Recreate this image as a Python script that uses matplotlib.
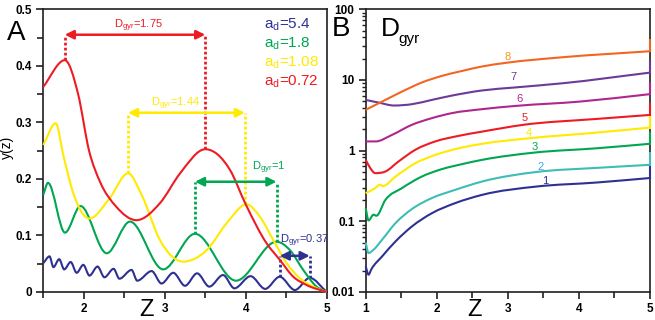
"""
Panel A: oscillating y(z) curves for four a_d values, panel B: D_gyr vs Z.
"""

import numpy as np
import matplotlib
matplotlib.use('Agg')
from matplotlib import pyplot as plt
from matplotlib.path import Path
from matplotlib.patches import PathPatch
from matplotlib.ticker import MultipleLocator, LogLocator, NullFormatter

plt.rcParams['font.family'] = ['Liberation Sans', 'DejaVu Sans']

# ---- panel A data ----
blue_x = [1.5, 1.577, 1.625, 1.696, 1.758, 1.838, 1.912, 1.994, 2.07, 2.17, 2.255,
          2.368, 2.44, 2.59, 2.66, 2.838, 2.96, 3.105, 3.25, 3.40, 3.55, 3.72, 3.86,
          4.06, 4.24, 4.42, 4.607, 4.79, 5.0]
blue_y = [0.051, 0.063, 0.044, 0.058, 0.040, 0.053, 0.034, 0.048, 0.029, 0.045, 0.026,
          0.041, 0.0235, 0.039, 0.020, 0.037, 0.015, 0.034, 0.011, 0.033, 0.0095, 0.030,
          0.0065, 0.028, 0.0055, 0.027, 0.0035, 0.025, 0.0]
green_x = [1.5, 1.558, 1.768, 1.96, 2.283, 2.57, 2.98, 3.373, 3.88, 4.38, 4.546, 4.71, 4.875, 5.0]
green_y = [0.172, 0.193, 0.105, 0.152, 0.0685, 0.1245, 0.040, 0.103, 0.020, 0.089, 0.074,
           0.039, 0.0094, 0.0]
yellow_x = [1.5, 1.653, 1.75, 1.87, 2.07, 2.32, 2.546, 2.72, 2.94, 3.228, 3.517,
            3.764, 4.01, 4.175, 4.34, 4.505, 4.67, 4.833, 5.0]
yellow_y = [0.26, 0.2985, 0.24, 0.175, 0.13, 0.166, 0.21, 0.17, 0.092, 0.0537, 0.074,
            0.1215, 0.155, 0.133, 0.092, 0.051, 0.024, 0.0094, 0.0]
red_x = [1.5, 1.765, 1.93, 2.065, 2.2, 2.4, 2.65, 2.94, 3.19, 3.5, 3.805,
         4.0, 4.258, 4.42, 4.587, 4.75, 5.0]
red_y = [0.363, 0.41, 0.35, 0.25, 0.195, 0.151, 0.127, 0.157, 0.21, 0.2525,
         0.216, 0.155, 0.086, 0.057, 0.027, 0.0124, 0.0]
a_labels = ['5.4', '1.8', '1.08', '0.72']

# D_gyr arrows: (left peak, right peak, arrow height, label)
gyr_blue = (4.42, 4.79, 0.064, '0.37')
gyr_green = (3.373, 4.38, 0.195, '1')
gyr_yellow = (2.546, 3.99, 0.317, '1.44')
gyr_red = (1.765, 3.5, 0.455, '1.75')

# ---- panel B data ----
b_x = {
    1: [1.0, 1.04, 1.08, 1.23, 1.42, 1.65, 1.93, 2.26, 2.64, 3.41, 4.25, 5.0],
    2: [1.0, 1.04, 1.11, 1.23, 1.42, 1.65, 1.93, 2.26, 2.64, 3.41, 4.25, 5.0],
    3: [1.0, 1.04, 1.11, 1.15, 1.276, 1.51, 1.79, 2.07, 2.355, 2.636, 3.38, 4.25, 5.0],
    4: [1.0, 1.135, 1.2, 1.24, 1.42, 1.70, 1.98, 2.31, 2.64, 3.31, 4.25, 5.0],
    5: [1.0, 1.065, 1.135, 1.276, 1.46, 1.70, 1.98, 2.31, 2.64, 3.22, 4.25, 5.0],
    6: [1.0, 1.14, 1.37, 1.65, 1.93, 2.21, 2.636, 3.12, 4.01, 5.0],
    7: [1.0, 1.18, 1.40, 1.65, 1.93, 2.21, 2.636, 3.08, 3.78, 5.0],
    8: [1.0, 1.23, 1.51, 1.79, 2.07, 2.355, 2.636, 2.98, 3.78, 5.0],
}
b_y = {
    1: [0.023, 0.0176, 0.021, 0.0318, 0.052, 0.0845, 0.13, 0.181, 0.237, 0.311, 0.354, 0.41],
    2: [0.050, 0.0356, 0.0396, 0.0548, 0.0944, 0.149, 0.213, 0.279, 0.366, 0.50, 0.57, 0.63],
    3: [0.154, 0.103, 0.124, 0.12, 0.20, 0.295, 0.43, 0.547, 0.644, 0.74, 0.94, 1.08, 1.25],
    4: [0.25, 0.295, 0.33, 0.315, 0.43, 0.665, 0.87, 1.08, 1.25, 1.5, 1.8, 2.12],
    5: [0.741, 0.565, 0.48, 0.506, 0.70, 1.03, 1.35, 1.62, 1.86, 2.32, 2.81, 3.2],
    6: [1.35, 1.35, 1.67, 2.32, 2.88, 3.39, 3.86, 4.3, 4.94, 6.3],
    7: [5.22, 4.79, 4.35, 4.54, 5.22, 6.0, 7.1, 7.8, 9.0, 12.7],
    8: [3.78, 4.94, 6.84, 9.2, 11.4, 13.4, 15.5, 17.5, 21.0, 25.5],
}
b_spike = {1: 0.6, 2: 0.93, 3: 1.8, 4: 3.2, 5: 4.6, 6: 9.2, 7: 18.2, 8: 36.8}
b_label_x = {1: 3.52, 2: 3.46, 3: 3.38, 4: 3.29, 5: 3.24, 6: 3.16, 7: 3.08, 8: 3.0}
b_label_y = {1: 0.377, 2: 0.585, 3: 1.14, 4: 1.80, 5: 2.88, 6: 5.35, 7: 11.1, 8: 20.9}

navy = '#2e3192'
green = '#00a651'
yellow = '#ffea00'
red = '#ed1c24'
b_colors = {1: navy, 2: '#3dbdb5', 3: green, 4: yellow, 5: red,
            6: '#b0268f', 7: '#6d3a96', 8: '#f26522'}
b_label_colors = {1: navy, 2: '#3fa9e0', 3: green, 4: yellow, 5: red,
                  6: '#b0268f', 7: '#6d3a96', 8: '#f7941d'}


def smooth_path(xs, ys):
    # bezier through the points: flat at turning points, weighted
    # central slopes elsewhere (clamped so nothing overshoots)
    x = np.asarray(xs, float)
    y = np.asarray(ys, float)
    h = np.diff(x)
    d = np.diff(y) / h
    m = np.zeros_like(y)
    m[0], m[-1] = d[0], d[-1]
    for k in range(1, len(x) - 1):
        if d[k - 1] * d[k] > 0:
            s = (d[k - 1] * h[k] + d[k] * h[k - 1]) / (h[k - 1] + h[k])
            lim = 3 * min(abs(d[k - 1]), abs(d[k]))
            m[k] = np.sign(s) * min(abs(s), lim)
    verts = [(x[0], y[0])]
    codes = [Path.MOVETO]
    for k in range(len(x) - 1):
        verts += [(x[k] + h[k] / 3, y[k] + m[k] * h[k] / 3),
                  (x[k + 1] - h[k] / 3, y[k + 1] - m[k + 1] * h[k] / 3),
                  (x[k + 1], y[k + 1])]
        codes += [Path.CURVE4] * 3
    return np.array(verts), codes


def draw_curve(ax, xs, ys, color, log=False):
    if log:
        verts, codes = smooth_path(xs, np.log10(ys))
        verts[:, 1] = 10 ** verts[:, 1]
    else:
        verts, codes = smooth_path(xs, ys)
    ax.add_patch(PathPatch(Path(verts, codes), fill=False, edgecolor=color, lw=1.5,
                           zorder=3, clip_on=False))


fig = plt.figure(figsize=(6.55, 3.2), dpi=100)
axA = fig.add_axes([0.0661, 0.0875, 0.4327, 0.8835])
axB = fig.add_axes([0.5583, 0.0875, 0.434, 0.8835])

# ---- panel A ----
draw_curve(axA, blue_x, blue_y, navy)
draw_curve(axA, green_x, green_y, green)
draw_curve(axA, yellow_x, yellow_y, yellow)
draw_curve(axA, red_x, red_y, red)

peak_y = {gyr_blue: (0.027, 0.025), gyr_green: (0.103, 0.089),
          gyr_yellow: (0.21, 0.155), gyr_red: (0.41, 0.2525)}
label_pos = {gyr_blue: (4.73, 0.09), gyr_green: (4.28, 0.219),
             gyr_yellow: (3.13, 0.333), gyr_red: (2.67, 0.471)}
for g, c in [(gyr_blue, navy), (gyr_green, green), (gyr_yellow, yellow), (gyr_red, red)]:
    x0, x1, h, lab = g
    p0, p1 = peak_y[g]
    axA.plot([x0, x0], [p0, h], color=c, lw=2, ls=(0, (1, 0.8)), zorder=2)
    axA.plot([x1, x1], [p1, h], color=c, lw=2, ls=(0, (1, 0.8)), zorder=2)
    axA.annotate('', xy=(x1, h), xytext=(x0, h),
                 arrowprops=dict(arrowstyle='<|-|>', color=c, lw=1.8,
                                 mutation_scale=13, shrinkA=0, shrinkB=0))
    lx, ly = label_pos[g]
    axA.text(lx, ly, r'D$_{\mathregular{gyr}}$=' + lab, color=c, fontsize=8,
             ha='center', va='center', clip_on=False)

for i, (lab, c) in enumerate(zip(a_labels, [navy, green, yellow, red])):
    axA.text(4.22, 0.4726 - i * 0.0338, r'a$_{\mathregular{d}}$=' + lab, color=c,
             fontsize=11, ha='left', va='center')

axA.set_xlim(1.5, 5)
axA.set_ylim(0, 0.5)
axA.xaxis.set_major_locator(MultipleLocator(1))
axA.xaxis.set_minor_locator(MultipleLocator(0.5))
axA.yaxis.set_major_locator(MultipleLocator(0.1))
axA.yaxis.set_minor_locator(MultipleLocator(0.05))
axA.set_xticks([2, 3, 4, 5])
axA.set_yticks([0, 0.1, 0.2, 0.3, 0.4, 0.5])
axA.set_yticklabels(['0', '0.1', '0.2', '0.3', '0.4', '0.5'])

# ---- panel B ----
for k in range(1, 9):
    draw_curve(axB, b_x[k], b_y[k], b_colors[k], log=True)
    axB.plot([5, 5], [b_y[k][-1], b_spike[k]], color=b_colors[k], lw=1.5,
             zorder=4, clip_on=False)
    axB.text(b_label_x[k], b_label_y[k], str(k), color=b_label_colors[k], fontsize=8,
             ha='center', va='center')

axB.set_yscale('log')
axB.set_xlim(1, 5)
axB.set_ylim(0.01, 100)
axB.xaxis.set_major_locator(MultipleLocator(1))
axB.xaxis.set_minor_locator(MultipleLocator(0.5))
axB.yaxis.set_major_locator(LogLocator(base=10, numticks=10))
axB.yaxis.set_minor_locator(LogLocator(base=10, subs=np.arange(2, 10), numticks=10))
axB.yaxis.set_minor_formatter(NullFormatter())
axB.set_yticks([0.01, 0.1, 1, 10, 100])
axB.set_yticklabels(['0.01', '0.1', '1', '10', '100'])

for ax in (axA, axB):
    for s in ax.spines.values():
        s.set_linewidth(1.2)
        s.set_color('#231f20')
    ax.tick_params(which='major', direction='out', length=5, width=1.2,
                   labelsize=8.5, pad=3, top=False, right=False, color='#231f20')
    ax.tick_params(which='minor', direction='out', length=4, width=1.2,
                   top=False, right=False, color='#231f20')
    for lab in ax.get_xticklabels() + ax.get_yticklabels():
        lab.set_fontweight('bold')
axB.tick_params(which='minor', axis='y', length=3, width=1)

# panel letters and axis titles
fig.text(16 / 655, 1 - 33 / 320, 'A', fontsize=20, ha='center', va='center')
fig.text(341 / 655, 1 - 29 / 320, 'B', fontsize=20, ha='center', va='center')
fig.text(390 / 655, 1 - 29 / 320, 'D', fontsize=19, ha='center', va='center')
fig.text(398 / 655, 1 - 39 / 320, 'gyr', fontsize=11, ha='left', va='center')
fig.text(7 / 655, 1 - 147 / 320, 'y(z)', fontsize=10, ha='center', va='center',
         rotation=90)
fig.text(147 / 655, 1 - 310 / 320, 'Z', fontsize=17, ha='center', va='center')
fig.text(475 / 655, 1 - 310 / 320, 'Z', fontsize=17, ha='center', va='center')

fig.savefig('out.png', dpi=100)
